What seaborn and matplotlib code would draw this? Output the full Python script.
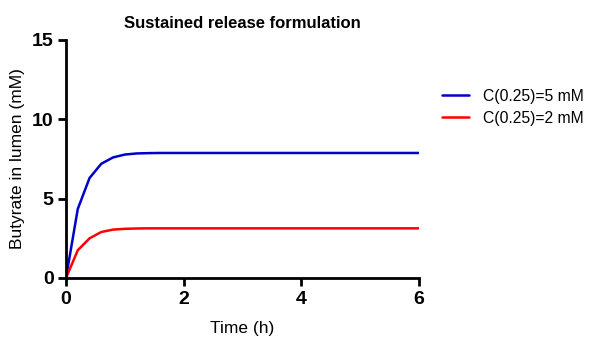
import matplotlib
matplotlib.use("Agg")
import matplotlib.pyplot as plt
import seaborn as sns
import pandas as pd

time_h = [0, 0.2, 0.4, 0.6, 0.8, 1.0, 1.2, 1.4, 1.6, 2, 3, 4, 5, 6]
blue_5mM = [0, 4.35, 6.3, 7.2, 7.6, 7.78, 7.85, 7.87, 7.88, 7.88, 7.88, 7.88, 7.88, 7.88]
red_2mM = [0, 1.75, 2.5, 2.9, 3.05, 3.1, 3.12, 3.13, 3.13, 3.13, 3.13, 3.13, 3.13, 3.13]
labels = ["C(0.25)=5 mM", "C(0.25)=2 mM"]
x_ticks = [0, 2, 4, 6]
y_ticks = [0, 5, 10, 15]

df = pd.concat([
    pd.DataFrame({"t": time_h, "c": blue_5mM, "s": labels[0]}),
    pd.DataFrame({"t": time_h, "c": red_2mM, "s": labels[1]}),
])

sns.set_style("ticks")
plt.rcParams["font.family"] = ["Liberation Sans", "DejaVu Sans"]
plt.rcParams.update({"text.color": "black", "axes.labelcolor": "black",
                     "xtick.color": "black", "ytick.color": "black",
                     "axes.edgecolor": "black"})

fig = plt.figure(figsize=(5.90, 3.41), dpi=100)
ax = fig.add_axes([66/590, 1-278/341, (419-66)/590, (278-40)/341])
sns.lineplot(data=df, x="t", y="c", hue="s", palette=["#0000cc", "#ff0000"],
             linewidth=1.8, ax=ax)
ax.set_xlim(0, 6)
ax.set_ylim(0, 15)
ax.set_xticks(x_ticks)
ax.set_yticks(y_ticks)
ax.set_xticklabels([str(v) for v in x_ticks], fontweight="bold", fontsize=14)
ax.set_yticklabels([str(v) for v in y_ticks], fontweight="bold", fontsize=14)
ax.tick_params(width=2, length=6, direction="out", pad=3)
for s in ["left", "bottom"]:
    ax.spines[s].set_linewidth(2)
for s in ["top", "right"]:
    ax.spines[s].set_visible(False)
ax.set_xlabel("Time (h)", fontsize=12.5, labelpad=10)
ax.set_ylabel("Butyrate in lumen (mM)", fontsize=12.5, labelpad=5)
ax.set_title("Sustained release formulation", fontweight="bold", fontsize=12, pad=9)
ax.legend(loc="upper left", bbox_to_anchor=(1.065, 0.795), frameon=False,
          fontsize=11.3, handlelength=1.75, handletextpad=0.85, labelspacing=0.45,
          borderaxespad=0, borderpad=0)
fig.savefig("out.png", dpi=100)
